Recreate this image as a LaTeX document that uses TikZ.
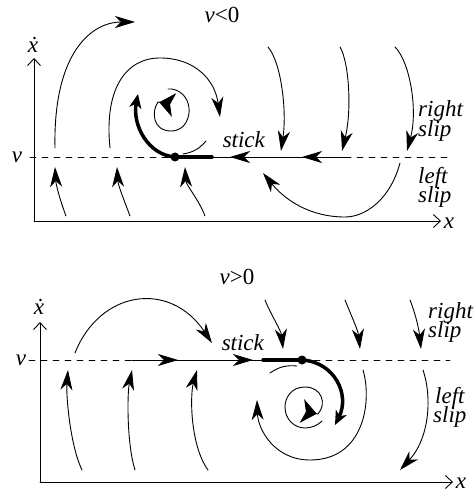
\documentclass[tikz,border=0pt]{standalone}
\usepackage{fontspec}
\setmainfont{Liberation Serif}
\usetikzlibrary{arrows.meta}

\begin{document}
\begin{tikzpicture}[x=1pt,y=-1pt,line cap=round,line join=round]
  % ----- styles -----
  \tikzset{
    axis/.style={draw=black,line width=0.9pt,-{Straight Barb[length=7pt,width=13pt]}},
    orbit/.style={draw=black,line width=0.9pt},
    flow/.style={orbit,-{Stealth[length=20pt,width=12pt,inset=6pt]}},
    stickline/.style={draw=black,line width=3.5pt},
    thickflow/.style={stickline,-{Stealth[length=14pt,width=12pt,inset=4pt]}},
    focus/.style={orbit,{Stealth[reversed,length=15pt,width=24pt,inset=4pt]}-},
    vline/.style={draw=black,line width=0.9pt,dash pattern=on 6pt off 6pt},
    lbl/.style={font=\fontsize{23}{20}\selectfont,inner sep=0pt}
  }
  \useasboundingbox (0,0) rectangle (474,497);

  % ----- upper panel: v<0 -----
  \coordinate (O1) at (34,221);
  \coordinate (S1) at (175,157);   % stick point
  \draw[axis] (O1) -- (34,58);
  \draw[axis] (O1) -- (441,221);
  \draw[vline] (30,157) -- (S1);
  \draw[vline] (345,157) -- (448,157);
  \draw[orbit] (345,157) -- (212,157);
  \draw[flow] (345,157) -- (302,157);
  \draw[flow] (345,157) -- (230,157);
  \draw[stickline] (S1) -- (212,157);

  % orbits
  \draw[flow] (55,148) .. controls (53,55) and (90,22) .. (135,22);
  \draw[flow] (110,148) .. controls (104,90) and (125,58) .. (160,58)
                        .. controls (195,58) and (215,80) .. (220,117);
  \draw[thickflow] (S1) .. controls (148,155) and (132,125) .. (138,94);
  \draw[focus] (174,105) -- (158,102) .. controls (151,112) and (153,131) .. (171,131)
               .. controls (186,131) and (190,116) .. (189,108)
               .. controls (188,96) and (178,88) .. (168,89);
  \draw[orbit] (183,154) to[bend right=20] (206,141);
  \fill (S1) circle (4.5pt);

  % right slip
  \foreach \a/\p/\q/\c in {268/281/287/281, 340/349/352/342, 395/410/418/407}{
    \draw[flow] (\a,47) .. controls (\p,62) and (\q,110) .. (\c,151);
  }
  % left slip
  \draw[flow] (400,163) .. controls (390,200) and (365,217) .. (345,217)
              .. controls (310,217) and (285,200) .. (263,173);
  \foreach \a/\c in {66/55, 130/117, 205/185}{
    \draw[flow] (\a,216) .. controls (\a-6,200) and (\c+1,185) .. (\c,167);
  }

  % labels
  \node[lbl] (title1) at (222,15) {\textit{v}<0};
  \node[lbl] (xdot1) at (33,45) {\textit{\.x}};
  \node[lbl] (v1) at (17,157) {\textit{v}};
  \node[lbl] (x1) at (449,223) {\textit{x}};
  \node[lbl,anchor=base] (stick1) at (244,148) {\textit{stick}};
  \node[lbl,anchor=base west] (right1) at (418,117) {\textit{right}};
  \node[lbl,anchor=base west] (slipR1) at (418,137) {\textit{slip}};
  \node[lbl,anchor=base west] (left1) at (418,183) {\textit{left}};
  \node[lbl,anchor=base west] (slipL1) at (418,202) {\textit{slip}};

  % ----- lower panel: v>0 -----
  \coordinate (O2) at (40,482);
  \coordinate (S2) at (302,360);   % stick point
  \draw[axis] (O2) -- (40,322);
  \draw[axis] (O2) -- (453,482);
  \draw[vline] (29,360) -- (132,360);
  \draw[vline] (S2) -- (450,360);
  \draw[orbit] (132,360) -- (263,360);
  \draw[flow] (132,360) -- (178,360);
  \draw[flow] (132,360) -- (253,360);
  \draw[stickline] (263,360) -- (S2);

  % orbits
  \draw[flow] (75,353) .. controls (100,290) and (170,280) .. (212,343);
  \draw[thickflow] (S2) .. controls (335,362) and (350,395) .. (335,425);
  \draw[focus] (302,411) -- (318,414) .. controls (327,404) and (322,387) .. (305,387)
               .. controls (291,387) and (285,398) .. (285,407)
               .. controls (285,420) and (295,428) .. (305,428)
               .. controls (312,428) and (318,425) .. (322,421);
  \draw[orbit] (270,373) to[bend left=20] (297,366);
  \fill (S2) circle (4.5pt);

  % right slip
  \foreach \a/\c in {265/283, 345/360, 410/421}{
    \draw[flow] (\a,300) .. controls (\a+6,315) and (\c-2,330) .. (\c,349);
  }
  % left slip
  \draw[flow] (363,370) .. controls (372,400) and (365,460) .. (310,460)
              .. controls (275,460) and (258,430) .. (257,400);
  \draw[flow] (423,370) .. controls (433,400) and (428,440) .. (400,470);
  \foreach \a/\p/\q/\c in {82/70/66/68, 135/127/127/132, 208/190/190/197}{
    \draw[flow] (\a,470) .. controls (\p,445) and (\q,395) .. (\c,370);
  }

  % labels
  \node[lbl] (title2) at (237,277) {\textit{v}>0};
  \node[lbl] (xdot2) at (39,307) {\textit{\.x}};
  \node[lbl] (v2) at (21,360) {\textit{v}};
  \node[lbl] (x2) at (461,483) {\textit{x}};
  \node[lbl,anchor=base] (stick2) at (243,350) {\textit{stick}};
  \node[lbl,anchor=base west] (right2) at (428,318) {\textit{right}};
  \node[lbl,anchor=base west] (slipR2) at (428,337) {\textit{slip}};
  \node[lbl,anchor=base west] (left2) at (435,403) {\textit{left}};
  \node[lbl,anchor=base west] (slipL2) at (433,422) {\textit{slip}};
\end{tikzpicture}
\end{document}
